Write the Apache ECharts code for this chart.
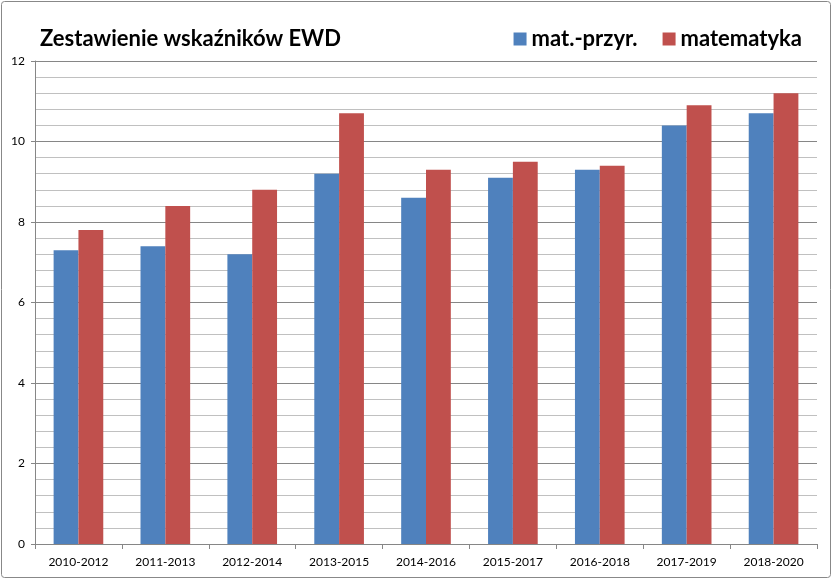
<!DOCTYPE html>
<html>
<head>
<meta charset="utf-8">
<script src="https://cdn.jsdelivr.net/npm/echarts@6/dist/echarts.min.js"></script>
<style>
  html, body { margin: 0; padding: 0; background: #fff; }
  #chart { width: 834px; height: 580px; }
</style>
</head>
<body>
<div id="chart"></div>
<script>
const categories = [
  "2010-2012", "2011-2013", "2012-2014", "2013-2015", "2014-2016",
  "2015-2017", "2016-2018", "2017-2019", "2018-2020",
];
const matPrzyr = [7.3, 7.4, 7.2, 9.2, 8.6, 9.1, 9.3, 10.4, 10.7];
const matematyka = [7.8, 8.4, 8.8, 10.7, 9.3, 9.5, 9.4, 10.9, 11.2];

const chart = echarts.init(document.getElementById("chart"));
const font = "Lato, 'Open Sans', sans-serif";

chart.setOption({
  animation: false,
  title: {
    text: "Zestawienie wskaźników EWD",
    left: 35,
    top: 23,
    textStyle: { fontFamily: font, fontSize: 22, fontWeight: "bold", color: "#000" },
  },
  legend: {
    right: 27,
    top: 23,
    itemWidth: 13,
    itemHeight: 13,
    itemGap: 25,
    icon: "rect",
    textStyle: { fontFamily: font, fontSize: 22, fontWeight: "bold", color: "#000" },
  },
  graphic: [{
    type: "rect",
    shape: { x: 1.5, y: 1.5, width: 829, height: 576, r: 3 },
    style: { fill: "none", stroke: "#888", lineWidth: 1 },
    silent: true,
  }],
  grid: { left: 35, right: 17, top: 61, bottom: 36 },
  xAxis: {
    type: "category",
    data: categories,
    axisLine: { lineStyle: { color: "#868686" } },
    axisTick: { show: true, length: 5, lineStyle: { color: "#868686" } },
    axisLabel: { fontFamily: font, fontSize: 12, color: "#000", margin: 12 },
  },
  yAxis: {
    type: "value",
    min: 0,
    max: 12,
    interval: 2,
    axisLine: { show: true, lineStyle: { color: "#868686" } },
    axisTick: { show: true, length: 4, lineStyle: { color: "#868686" } },
    axisLabel: { fontFamily: font, fontSize: 12, color: "#000", margin: 10 },
    splitLine: { lineStyle: { color: "#868686" } },
    minorTick: { show: false, splitNumber: 5 },
    minorSplitLine: { show: true, lineStyle: { color: "#c0c0c0" } },
  },
  series: [
    {
      name: "mat.-przyr.",
      type: "bar",
      data: matPrzyr,
      barWidth: "28.57%",
      barGap: "0%",
      itemStyle: { color: "#4F81BD" },
    },
    {
      name: "matematyka",
      type: "bar",
      data: matematyka,
      barWidth: "28.57%",
      barGap: "0%",
      itemStyle: { color: "#C0504D" },
    },
  ],
});
</script>
</body>
</html>
